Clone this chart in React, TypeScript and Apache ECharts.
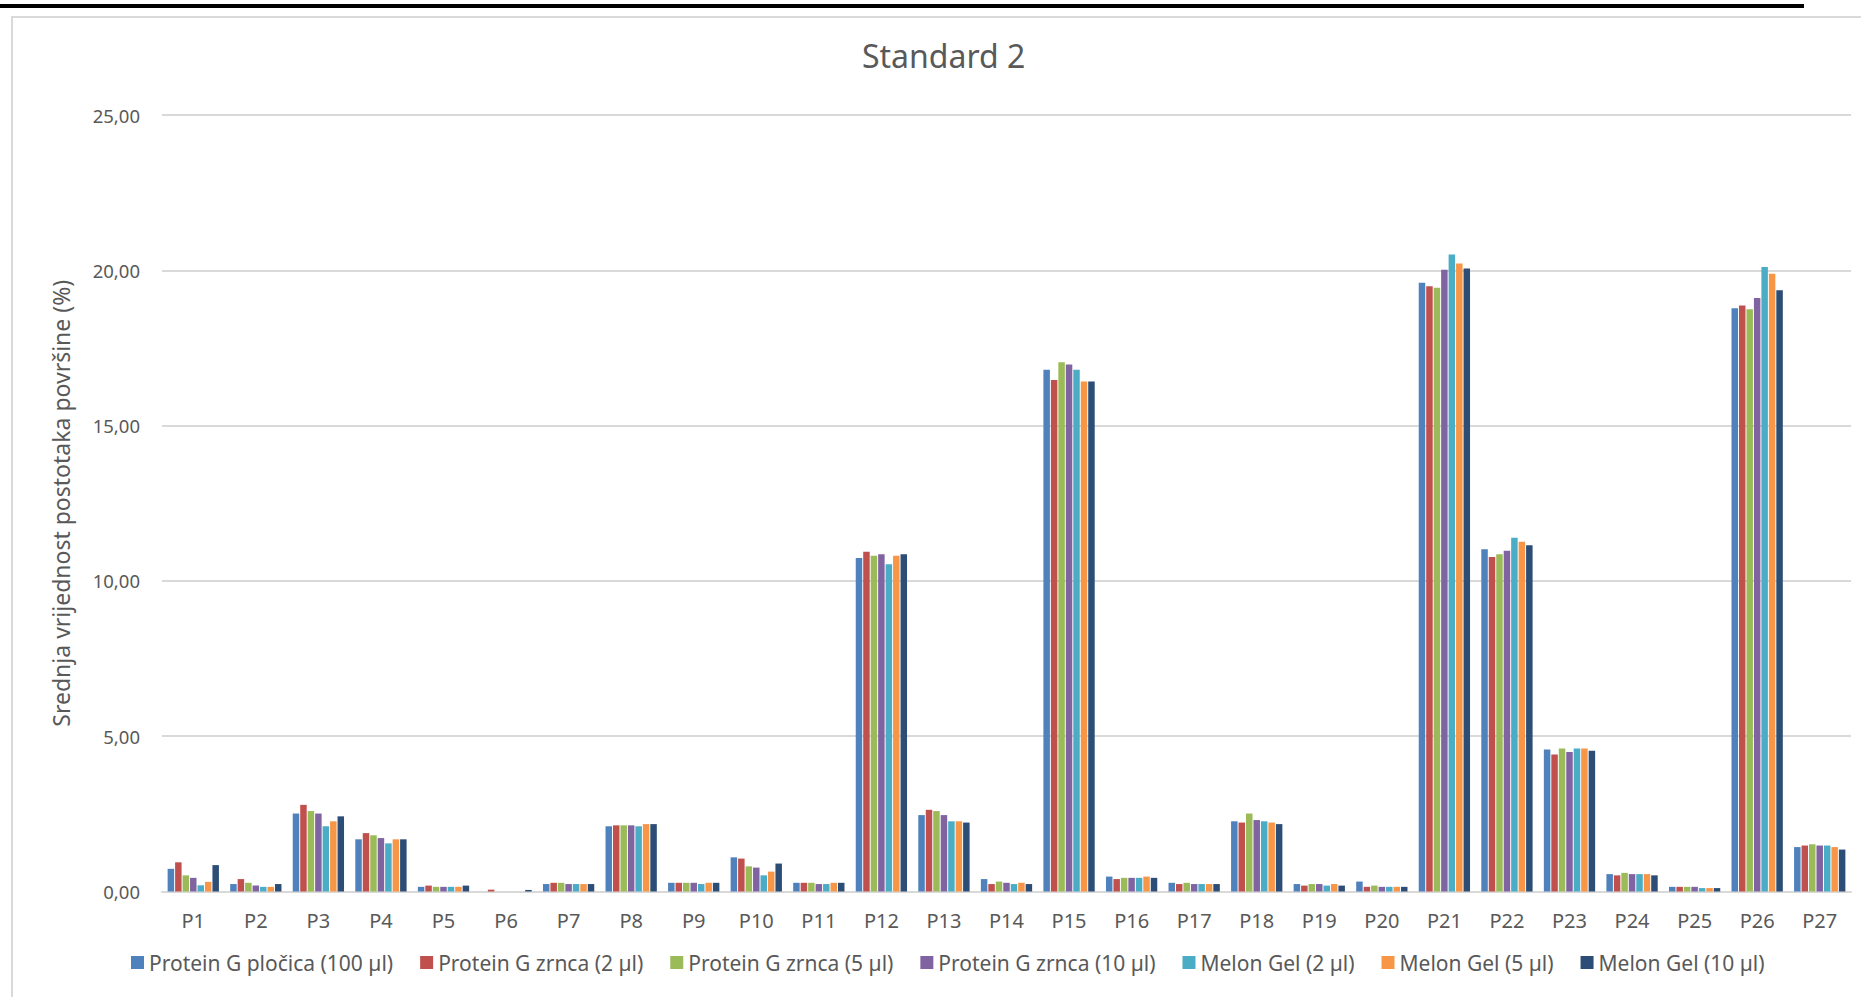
import React, { useEffect, useRef } from "react";
import * as echarts from "echarts";

const categories = ["P1","P2","P3","P4","P5","P6","P7","P8","P9","P10","P11","P12","P13","P14","P15","P16","P17","P18","P19","P20","P21","P22","P23","P24","P25","P26","P27"];

const seriesNames = [
  "Protein G pločica (100 µl)",
  "Protein G zrnca (2 µl)",
  "Protein G zrnca (5 µl)",
  "Protein G zrnca (10 µl)",
  "Melon Gel (2 µl)",
  "Melon Gel (5 µl)",
  "Melon Gel (10 µl)",
];

const pgPlocica100 = [0.73,0.24,2.51,1.68,0.15,0,0.24,2.10,0.28,1.10,0.28,10.74,2.46,0.40,16.80,0.48,0.28,2.26,0.24,0.32,19.60,11.02,4.57,0.56,0.15,18.78,1.43];
const pgZrnca2 = [0.94,0.40,2.79,1.88,0.19,0.06,0.28,2.13,0.28,1.06,0.28,10.94,2.63,0.24,16.47,0.40,0.24,2.22,0.19,0.15,19.49,10.77,4.41,0.52,0.15,18.87,1.48];
const pgZrnca5 = [0.52,0.28,2.59,1.81,0.15,0,0.28,2.13,0.28,0.81,0.28,10.81,2.59,0.32,17.04,0.44,0.28,2.51,0.24,0.19,19.44,10.86,4.60,0.60,0.15,18.75,1.52];
const pgZrnca10 = [0.44,0.19,2.51,1.72,0.15,0,0.24,2.13,0.28,0.77,0.24,10.86,2.46,0.28,16.97,0.44,0.24,2.30,0.24,0.15,20.02,10.97,4.49,0.56,0.15,19.11,1.48];
const melon2 = [0.20,0.15,2.10,1.55,0.15,0,0.24,2.10,0.24,0.52,0.24,10.54,2.26,0.24,16.80,0.44,0.24,2.26,0.19,0.15,20.51,11.39,4.60,0.56,0.11,20.11,1.48];
const melon5 = [0.31,0.15,2.26,1.68,0.15,0,0.24,2.17,0.28,0.64,0.28,10.81,2.26,0.28,16.42,0.48,0.24,2.22,0.24,0.15,20.22,11.26,4.60,0.56,0.11,19.89,1.43];
const melon10 = [0.85,0.24,2.42,1.68,0.19,0.05,0.24,2.17,0.28,0.90,0.28,10.86,2.22,0.24,16.42,0.44,0.24,2.17,0.19,0.15,20.06,11.15,4.53,0.52,0.11,19.36,1.35];

const seriesData = [pgPlocica100, pgZrnca2, pgZrnca5, pgZrnca10, melon2, melon5, melon10];
const colors = ["#4F81BD", "#C0504D", "#9BBB59", "#8064A2", "#4BACC6", "#F79646", "#2C4D75"];

const FONT = "'Noto Sans', 'DejaVu Sans', sans-serif";
const TEXT = "#595959";

export default function App() {
  const ref = useRef<HTMLDivElement>(null);
  useEffect(() => {
    if (!ref.current) return;
    const chart = echarts.init(ref.current, undefined, { renderer: "svg" });
    chart.setOption({
      animation: false,
      backgroundColor: "#ffffff",
      color: colors,
      textStyle: { fontFamily: FONT, color: TEXT },
      title: {
        text: "Standard 2",
        left: 857,
        top: 34,
        textStyle: { fontFamily: FONT, fontSize: 32, fontWeight: "normal", color: TEXT },
      },
      graphic: [
        { type: "rect", shape: { x: 0, y: 4, width: 1804, height: 4 }, style: { fill: "#000000" }, z: 100 },
        { type: "rect", shape: { x: 12, y: 17, width: 1900, height: 1000 }, style: { fill: "none", stroke: "#d9d9d9", lineWidth: 2 }, z: 100 },
      ],
      legend: {
        top: 947,
        left: 126,
        itemWidth: 13,
        itemHeight: 13,
        itemGap: 27,
        icon: "rect",
        textStyle: { fontFamily: FONT, fontSize: 21, color: TEXT },
        data: seriesNames,
      },
      grid: { left: 162, right: 10, top: 115, bottom: 105.5, containLabel: false },
      xAxis: {
        type: "category",
        data: categories,
        axisLine: { lineStyle: { color: "#d9d9d9", width: 2 } },
        axisTick: { show: false },
        axisLabel: { fontFamily: FONT, fontSize: 20, color: TEXT, margin: 19 },
      },
      yAxis: {
        type: "value",
        min: 0,
        max: 25,
        interval: 5,
        name: "Srednja vrijednost postotaka površine (%)",
        nameLocation: "middle",
        nameGap: 90,
        nameTextStyle: { fontFamily: FONT, fontSize: 23, color: TEXT },
        axisLine: { show: false },
        axisTick: { show: false },
        axisLabel: {
          fontFamily: FONT,
          fontSize: 18.5,
          color: TEXT,
          margin: 22,
          formatter: (v: number) => v.toFixed(2).replace(".", ","),
        },
        splitLine: { lineStyle: { color: "#d9d9d9", width: 2 } },
      },
      series: seriesNames.map((name, i) => ({
        name,
        type: "bar",
        data: seriesData[i],
        barGap: "15%",
        barCategoryGap: "18%",
        itemStyle: { color: colors[i] },
      })),
    });
    return () => chart.dispose();
  }, []);
  return <div ref={ref} style={{ position: "absolute", left: 0, top: 0, width: 1861, height: 997 }} />;
}
